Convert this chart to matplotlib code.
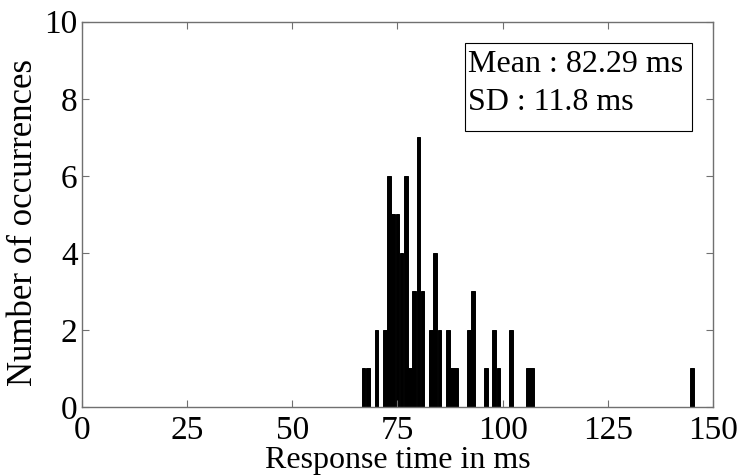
import matplotlib
matplotlib.use("Agg")
import matplotlib.pyplot as plt
from matplotlib.patches import Rectangle

# histogram counts, 1 ms bins centred on the integer value
bin_ms = [67, 68, 70, 72, 73, 74, 75, 76, 77, 78, 79, 80, 81, 83, 84, 85,
          87, 88, 89, 92, 93, 96, 98, 99, 102, 106, 107, 145]
counts = [1, 1, 2, 2, 6, 5, 5, 4, 6, 1, 3, 7, 3, 2, 4, 2,
          2, 1, 1, 2, 3, 1, 2, 1, 2, 1, 1, 1]

x_ticks = [0, 25, 50, 75, 100, 125, 150]
y_ticks = [0, 2, 4, 6, 8, 10]
mean_text = "Mean : 82.29 ms"
sd_text = "SD : 11.8 ms"

plt.rcParams['font.family'] = ['Liberation Serif', 'DejaVu Serif']

fig = plt.figure(figsize=(7.39, 4.75), dpi=100)
ax = fig.add_axes([0.1106, 0.1432, 0.8542, 0.8111])

ax.bar(bin_ms, counts, width=0.85, color='black', edgecolor='black', linewidth=0.7)

ax.set_xlim(0, 150)
ax.set_ylim(0, 10)
ax.set_xticks(x_ticks)
ax.set_yticks(y_ticks)

for s in ax.spines.values():
    s.set_color('#707070')
    s.set_linewidth(1.0)
ax.tick_params(direction='in', length=5, width=0.8, color='#707070',
               top=True, right=True, labelsize=24)
ax.tick_params(axis='x', pad=6)
ax.tick_params(axis='y', pad=3)

# axis labels placed like the original (MATLAB style)
fig.text(0.5377, 1 - 468 / 475, 'Response time in ms', fontsize=23,
         ha='center', va='baseline')
fig.text(24 / 739, 1 - 222 / 475, 'Number of occurrences', fontsize=25,
         ha='center', va='center', rotation=90)

# statistics box
fig.add_artist(Rectangle((465 / 739, 1 - 131 / 475), 227 / 739, 88 / 475,
                         transform=fig.transFigure, fc='white', ec='black', lw=0.8))
fig.text(468 / 739, 1 - 72 / 475, mean_text, fontsize=23, va='baseline', ha='left')
fig.text(468 / 739, 1 - 110 / 475, sd_text, fontsize=23, va='baseline', ha='left')

fig.savefig('out.png', dpi=100)
